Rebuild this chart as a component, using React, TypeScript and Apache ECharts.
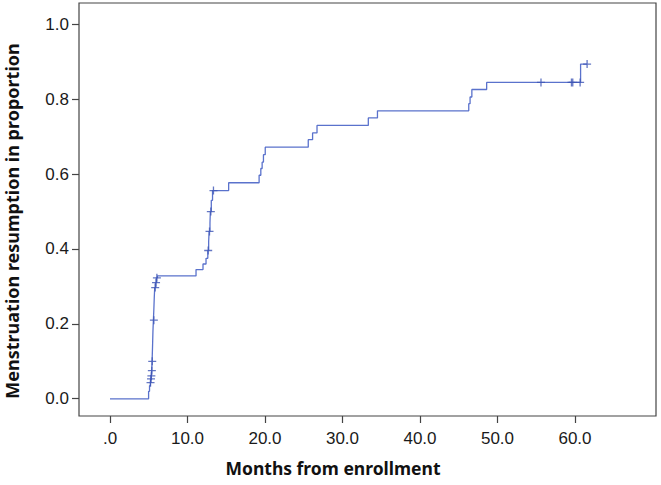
import React, { useEffect, useRef } from 'react';
import * as echarts from 'echarts';

const xTickValues = [0, 10, 20, 30, 40, 50, 60];
const yTickValues = [0, 0.2, 0.4, 0.6, 0.8, 1.0];

const xTitle = 'Months from enrollment';
const yTitle = 'Menstruation resumption in proportion';

// Cumulative incidence step curve (time in months, proportion after the step)
const stepTimes = [
  0, 4.98, 5.1, 5.21, 5.26, 5.32, 5.38, 5.43, 5.49, 5.54, 5.6, 5.66, 5.71, 5.77, 5.88, 5.99, 6.11,
  11.1, 12.0, 12.39, 12.62, 12.73, 12.79, 12.9, 12.95, 13.07, 13.23,
  15.31, 19.24, 19.46, 19.63, 19.8, 20.03, 25.58, 26.14, 26.71, 33.33, 34.51,
  46.29, 46.46, 46.69, 48.6, 60.72, 61.56,
];
const stepProportions = [
  0, 0.02, 0.035, 0.043, 0.053, 0.061, 0.075, 0.1, 0.14, 0.18, 0.21, 0.24, 0.27, 0.297, 0.31, 0.323, 0.328,
  0.345, 0.36, 0.375, 0.396, 0.42, 0.447, 0.47, 0.5, 0.53, 0.556,
  0.577, 0.597, 0.615, 0.632, 0.652, 0.672, 0.692, 0.71, 0.73, 0.75, 0.769,
  0.788, 0.806, 0.826, 0.845, 0.894, 0.894,
];

// Censored observations
const censorTimes = [5.23, 5.29, 5.34, 5.4, 5.45, 5.66, 5.83, 5.94, 6.05, 12.67, 12.84, 13.01, 13.35, 55.61, 59.54, 59.71, 60.66, 61.56];
const censorProportions = [0.043, 0.053, 0.061, 0.075, 0.1, 0.21, 0.297, 0.31, 0.323, 0.396, 0.447, 0.5, 0.556, 0.845, 0.845, 0.845, 0.845, 0.894];

const X_MIN = -4;
const X_MAX = 70.45;
const Y_MIN = -0.046;
const Y_MAX = 1.057;

export default function App() {
  const ref = useRef<HTMLDivElement>(null);
  useEffect(() => {
    if (!ref.current) return;
    const chart = echarts.init(ref.current, null, { renderer: 'svg' });
    const lineData = stepTimes.map((t, i) => [t, stepProportions[i]]);
    const censorData = censorTimes.map((t, i) => [t, censorProportions[i]]);
    const frameColor = '#444';
    const labelFont = { fontFamily: 'Liberation Sans, Arial, sans-serif', fontSize: 17, color: '#1a1a1a' };
    const hiddenAxis = (gridIndex: number) => ({
      type: 'value',
      gridIndex,
      min: 0,
      max: 1,
      show: false,
    });
    chart.setOption({
      animation: false,
      backgroundColor: '#fff',
      grid: [
        // plot frame (data area)
        { left: 79, right: 5, top: 3, bottom: 69, show: true, borderColor: frameColor, borderWidth: 1.2, backgroundColor: 'transparent' },
        // x tick/label band: 0..60 months along the frame bottom
        { left: 110, right: 86, top: 24.3, bottom: 69, show: false },
        // y tick/label band: 0..1 along the frame left side
        { left: 79, right: 86, top: 24.3, bottom: 86.3, show: false },
      ],
      xAxis: [
        { type: 'value', gridIndex: 0, min: X_MIN, max: X_MAX, show: false },
        {
          type: 'value',
          gridIndex: 1,
          min: xTickValues[0],
          max: xTickValues[xTickValues.length - 1],
          interval: 10,
          axisLine: { show: false },
          axisTick: { show: true, inside: false, length: 7, lineStyle: { color: frameColor, width: 1.2 } },
          splitLine: { show: false },
          axisLabel: {
            ...labelFont,
            margin: 14,
            formatter: (v: number) => (v === 0 ? '.0' : v.toFixed(1)),
          },
        },
        hiddenAxis(2),
      ],
      yAxis: [
        { type: 'value', gridIndex: 0, min: Y_MIN, max: Y_MAX, show: false },
        hiddenAxis(1),
        {
          type: 'value',
          gridIndex: 2,
          min: yTickValues[0],
          max: yTickValues[yTickValues.length - 1],
          interval: 0.2,
          axisLine: { show: false },
          axisTick: { show: true, inside: false, length: 7, lineStyle: { color: frameColor, width: 1.2 } },
          splitLine: { show: false },
          axisLabel: {
            ...labelFont,
            margin: 10,
            formatter: (v: number) => v.toFixed(1),
          },
        },
      ],
      graphic: {
        elements: [
          {
            type: 'text',
            x: 333,
            y: 468,
            style: {
              text: xTitle,
              font: 'bold 17.5px "Noto Sans", sans-serif',
              fill: '#111',
              align: 'center',
              verticalAlign: 'middle',
            },
          },
          {
            type: 'text',
            x: 12,
            y: 221,
            rotation: Math.PI / 2,
            style: {
              text: yTitle,
              font: 'bold 18px "Noto Sans", sans-serif',
              fill: '#111',
              align: 'center',
              verticalAlign: 'middle',
            },
          },
        ],
      },
      series: [
        {
          type: 'line',
          xAxisIndex: 0,
          yAxisIndex: 0,
          data: lineData,
          step: 'end',
          showSymbol: false,
          lineStyle: { color: '#5a72cc', width: 1.3 },
          z: 2,
        },
        {
          type: 'scatter',
          xAxisIndex: 0,
          yAxisIndex: 0,
          data: censorData,
          symbol: 'path://M0,5 L10,5 M5,0 L5,10',
          symbolSize: 8,
          itemStyle: { color: 'none', borderColor: '#3d55b5', borderWidth: 1.3 },
          z: 3,
        },
      ],
    });
    return () => chart.dispose();
  }, []);
  return (
    <div
      ref={ref}
      style={{ position: 'fixed', left: 0, top: 0, width: 661, height: 485, background: '#fff' }}
    />
  );
}
